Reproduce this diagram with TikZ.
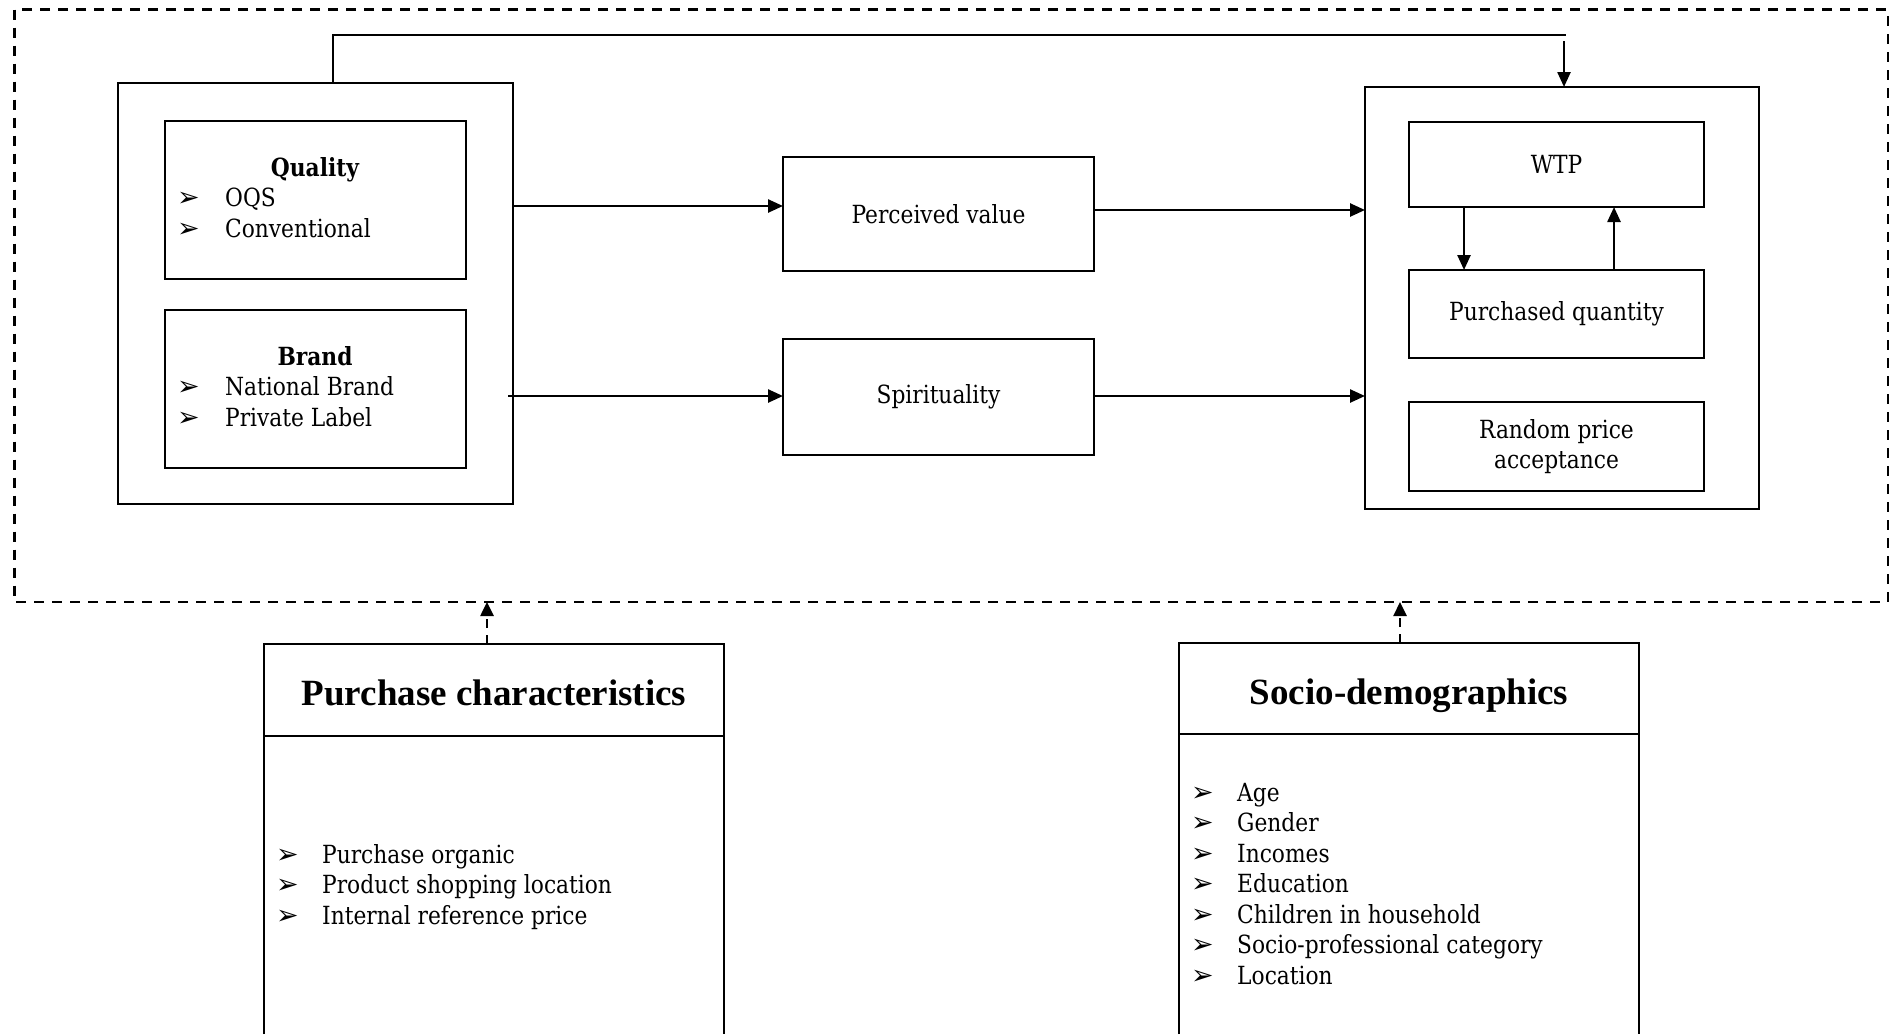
\documentclass[tikz,border=0pt]{standalone}
\usepackage{fontspec}
\setmainfont{DejaVu Serif}[FakeStretch=0.87]
\newfontfamily\hdrfont{Liberation Serif}
\newfontfamily\symfont{DejaVu Sans}
\usetikzlibrary{arrows.meta}
\begin{document}
\begin{tikzpicture}[x=1pt,y=-1pt,
  box/.style={draw, line width=2.8pt, inner sep=0pt, outer sep=0pt},
  arr/.style={line width=2.5pt, -{Triangle[length=15pt,width=13pt]}},
  darr/.style={line width=2.6pt, dash pattern=on 9pt off 7pt, -{Triangle[length=14pt,width=13pt]}},
  txt/.style={font=\fontsize{25}{30}\selectfont, inner sep=0pt},
  btxt/.style={font=\fontsize{25}{30}\selectfont\bfseries, inner sep=0pt},
  bul/.style={font=\fontsize{27}{30}\selectfont\symfont, inner sep=0pt},
  hdr/.style={font=\fontsize{37}{40}\selectfont\hdrfont\bfseries, inner sep=0pt}]
\useasboundingbox (0,0) rectangle (1892,1034);
\fill[white] (0,0) rectangle (1892,1034);

% dashed frame
\draw[line width=2.8pt, dash pattern=on 10pt off 8pt] (14.5,9.7) rectangle (1888,602);
\coordinate (fb1) at (487,602);
\coordinate (fb2) at (1400,602);

% left block
\node[box, minimum width=395pt, minimum height=421pt] (left) at (315.5,293.5) {};
\node[box, minimum width=301pt, minimum height=158pt] (qual) at (315.5,200) {};
\node[box, minimum width=301pt, minimum height=158pt] (brand) at (315.5,389) {};

\node[btxt, anchor=base] (tq) at (315,176) {Quality};
\node[bul, anchor=base west] (b1) at (177,206) {➢};
\node[txt, anchor=base west] (t1) at (225,206) {OQS};
\node[bul, anchor=base west] (b2) at (177,237) {➢};
\node[txt, anchor=base west] (t2) at (225,237) {Conventional};

\node[btxt, anchor=base] (tb) at (315,365) {Brand};
\node[bul, anchor=base west] (b3) at (177,395) {➢};
\node[txt, anchor=base west] (t3) at (225,395) {National Brand};
\node[bul, anchor=base west] (b4) at (177,426) {➢};
\node[txt, anchor=base west] (t4) at (225,426) {Private Label};

% middle
\node[box, minimum width=311pt, minimum height=114pt, txt] (pv) at (938.5,214) {Perceived value};
\node[box, minimum width=311pt, minimum height=116pt, txt] (sp) at (938.5,397) {Spirituality};

% right block
\node[box, minimum width=394pt, minimum height=422pt] (right) at (1562,298) {};
\node[box, minimum width=295pt, minimum height=85pt, txt] (wtp) at (1556.5,164.5) {WTP};
\node[box, minimum width=295pt, minimum height=88pt, txt] (pq) at (1556.5,314) {Purchased quantity};
\node[box, minimum width=295pt, minimum height=89pt, txt, align=center] (rpa) at (1556.5,446.5) {Random price\\acceptance};

% connectors
\draw[arr] (left.east |- 0,206) -- (pv.west |- 0,206);
\draw[arr] (508,396) -- (sp.west |- 0,396);
\draw[arr] (pv.east |- 0,210) -- (right.west |- 0,210);
\draw[arr] (sp.east |- 0,396) -- (right.west |- 0,396);
\draw[arr] (wtp.south -| 1464,0) -- (pq.north -| 1464,0);
\draw[arr] (pq.north -| 1614,0) -- (wtp.south -| 1614,0);

\coordinate (fbtop) at (1566,35);
\coordinate (fbstart) at (1564,41);
\draw[line width=1.4pt] (left.north -| 333,0) -- (333,35) -- (fbtop);
\draw[arr] (fbstart) -- (right.north -| 1564,0);

% bottom boxes
\coordinate (pcbl) at (264,1034);
\coordinate (pcbr) at (724,1034);
\draw[line width=2.8pt] (pcbl) -- (264,644) -- (724,644) -- (pcbr);
\draw[line width=2.8pt] (264,736) -- (724,736);
\node[hdr, anchor=base] (pch) at (494,705) {Purchase characteristics};
\coordinate (pctop) at (487,644);
\draw[darr] (pctop) -- (fb1);

\coordinate (sdbl) at (1179,1034);
\coordinate (sdbr) at (1639,1034);
\draw[line width=2.8pt] (sdbl) -- (1179,643) -- (1639,643) -- (sdbr);
\draw[line width=2.8pt] (1179,734) -- (1639,734);
\node[hdr, anchor=base] (sdh) at (1409,704) {Socio-demographics};
\coordinate (sdtop) at (1400,643);
\draw[darr] (sdtop) -- (fb2);

\foreach \t [count=\i] in {Purchase organic, Product shopping location, Internal reference price}{
  \node[bul, anchor=base west] (pb\i) at (276,{832.5+30.5*\i}) {➢};
  \node[txt, anchor=base west] (pt\i) at (322,{832.5+30.5*\i}) {\t};
}
\foreach \t [count=\i] in {Age, Gender, Incomes, Education, Children in household, Socio-professional category, Location}{
  \node[bul, anchor=base west] (sb\i) at (1191,{770.5+30.5*\i}) {➢};
  \node[txt, anchor=base west] (st\i) at (1237,{770.5+30.5*\i}) {\t};
}
\end{tikzpicture}
\end{document}
